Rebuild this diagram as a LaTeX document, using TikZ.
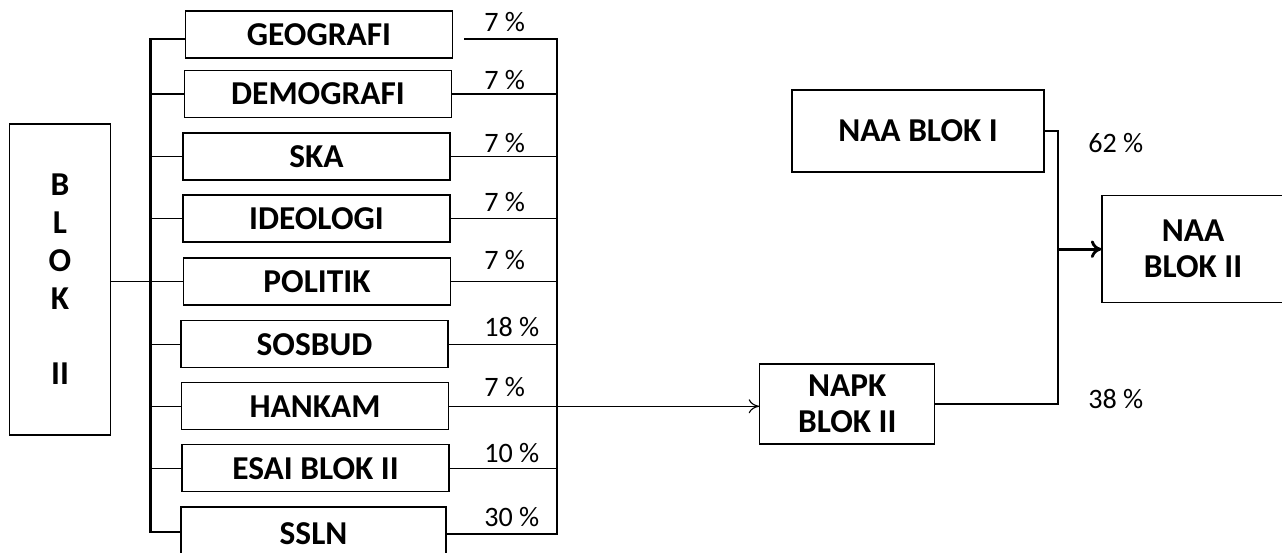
\documentclass[tikz,border=0pt]{standalone}
\usepackage{fontspec}
\setmainfont{Carlito}
\usepackage{tikz}
\usetikzlibrary{arrows,arrows.meta}
\usetikzlibrary{calc}

\begin{document}
\begin{tikzpicture}[x=0.02cm,y=-0.02cm,
    kotak/.style={draw,line width=0.7pt,inner sep=0pt,align=center,
        font=\fontsize{19}{20.5}\selectfont\bfseries},
    subkotak/.style={kotak,minimum width=5.34cm,minimum height=0.94cm},
    persen/.style={anchor=west,inner sep=0pt,font=\fontsize{16}{18}\selectfont},
    tipis/.style={line width=0.65pt},
    tebal/.style={line width=1.6pt}]
\useasboundingbox (0,0) rectangle (1282,553);
\clip (0,0) rectangle (1282,553);

% kotak BLOK II
\node[kotak,minimum width=2.02cm,minimum height=6.22cm,
      font=\fontsize{19}{21.5}\selectfont\bfseries] (blok) at (60,279.5) {B\\L\\O\\K\\[21.5pt]II};

% sub komponen
\foreach \nama/\teks/\cx/\cy in {geo/GEOGRAFI/319/34.5, demo/DEMOGRAFI/318/94,
    ska/SKA/316.5/156.5, ideo/IDEOLOGI/316.5/218.5, pol/POLITIK/317/281.5,
    sos/SOSBUD/314.5/344.3, han/HANKAM/315/406.3, esai/ESAI BLOK II/315.5/468.3}
    \node[subkotak] (\nama) at (\cx,\cy) {\teks};
\node[subkotak,minimum width=5.3cm,minimum height=1.06cm] (ssln) at (313.5,533.5) {SSLN};

\foreach \y/\p [count=\i] in {22/7, 80/7, 143/7, 202/7, 260/7, 327/18, 387/7, 453/10, 517/30}
    \node[persen] (pct\i) at (484,\y) {\p\ \%};

% garis kiri
\coordinate (lbtop) at (150.4,39);
\coordinate (lbbot) at (150.4,532);
\draw[tebal] (lbtop -| geo.west) -- (lbtop) -- (lbbot) -- (lbbot -| ssln.west);
\foreach \nama in {demo,ska,ideo,pol,sos,han,esai}
    \draw[tipis] (\nama.west -| lbtop) -- (\nama.west);
\draw[tipis] (blok.east |- pol.west) -- (pol.west);

% garis kanan
\coordinate (geoout) at (464,39);
\coordinate (rbtop) at (557,39);
\coordinate (rbbot) at (557,534);
\draw[tebal] (geoout) -- (rbtop) -- (rbbot) -- (rbbot -| ssln.east);
\foreach \nama in {demo,ska,ideo,pol,sos,esai}
    \draw[tipis] (\nama.east) -- (\nama.east -| rbtop);

% nilai akhir
\node[kotak,minimum width=5.04cm,minimum height=1.64cm] (naa1) at (918,131) {NAA BLOK I};
\node[kotak,minimum width=3.5cm,minimum height=1.6cm] (napk) at (847.3,404) {NAPK\\BLOK II};
\node[kotak,minimum width=3.64cm,minimum height=2.14cm] (naa2) at (1193,249.2) {NAA\\BLOK II};

\draw[tipis,-{To[length=6pt,width=8pt]}] (han.east) -- (han.east -| napk.west);

\coordinate (simpul) at (1058,249.2);
\draw[tebal] (naa1.east) -| (simpul) |- (napk.east);
\draw[tebal,-{To[length=6pt,width=10pt]}] (simpul) -- (naa2.west);

\node[persen] (pct62) at (1088,143) {62 \%};
\node[persen] (pct38) at (1088,399) {38 \%};
\end{tikzpicture}
\end{document}
